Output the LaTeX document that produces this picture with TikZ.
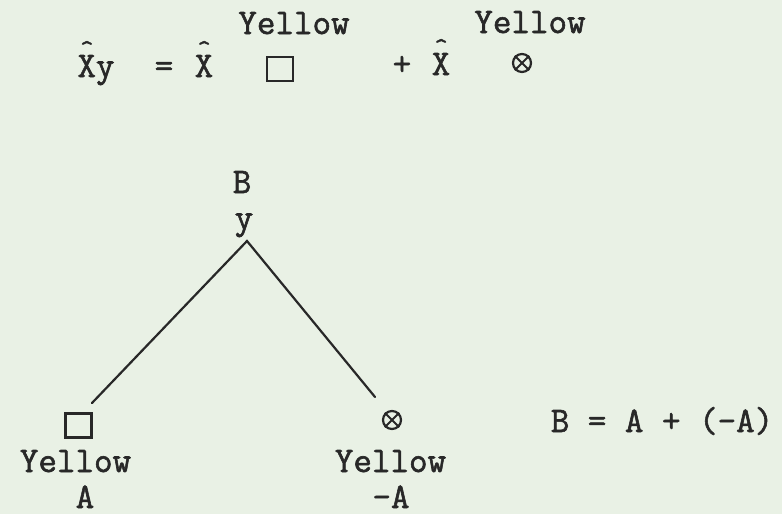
\documentclass[tikz,border=0pt]{standalone}
\usepackage{fontspec}
\setmonofont[FakeBold=1.6]{Latin Modern Mono}
\usepackage{tikz}
\usetikzlibrary{positioning,calc}
\definecolor{paper}{RGB}{233,241,229}
\definecolor{ink}{RGB}{40,40,40}
\tikzset{
  tw/.style={font=\ttfamily\fontsize{18}{20}\selectfont,text=ink,inner sep=0pt,anchor=base},
  sqr/.style={draw=ink,line width=1.1pt,minimum width=13pt,minimum height=12pt,inner sep=0pt},
  otm/.style={circle,draw=ink,line width=1.1pt,minimum size=9pt,inner sep=0pt},
  branch/.style={draw=ink,line width=1.1pt,line cap=round},
}
% X with a small caret set well above it
\newcommand{\hatx}{\leavevmode\rlap{\hbox to 0.525em{\hss\raisebox{0.56em}{\scalebox{0.7}{\textasciicircum}}\hss}}X}
% crossed circle: draw the cross into a named otm node
\newcommand{\crossin}[1]{\draw[ink,line width=0.9pt] (#1.45)--(#1.225) (#1.135)--(#1.315);}

\begin{document}
\begin{tikzpicture}[x=0.5pt,y=-0.5pt]
  \fill[paper] (0,0) rectangle (782,514);
  \useasboundingbox (0,0) rectangle (782,514);
  % top equation
  \node[tw] (xy) at (96,77) {\hatx y};
  \node[tw] (eq) at (164,77) {=};
  \node[tw] (x1) at (204,77) {\hatx};
  \node[sqr] (sq1) at (280,69) {};
  \node[tw] (ye1) at (294,34) {Yellow};
  \node[tw] (pl) at (402,75) {+};
  \node[tw] (x2) at (441,75) {\hatx};
  \node[otm] (ot1) at (522,63) {};
  \crossin{ot1}
  \node[tw] (ye2) at (530,33) {Yellow};
  % tree
  \node[tw] (b) at (242,193) {B};
  \node[tw] (y) at (244,229) {y};
  \coordinate (top) at (247,241);
  \coordinate (lend) at (92,403);
  \coordinate (rend) at (375,397);
  \draw[branch] (lend)--(top)--(rend);
  \node[sqr] (sq2) at (78.5,425.5) {};
  \node[tw] (ye3) at (75.5,472) {Yellow};
  \node[tw] (a) at (85,508) {A};
  \node[otm] (ot2) at (392,420) {};
  \crossin{ot2}
  \node[tw] (ye4) at (390.5,472) {Yellow};
  \node[tw] (ma) at (391,508) {-A};
  \node[tw] (sum) at (662,432) {B = A + (-A)};
\end{tikzpicture}
\end{document}
